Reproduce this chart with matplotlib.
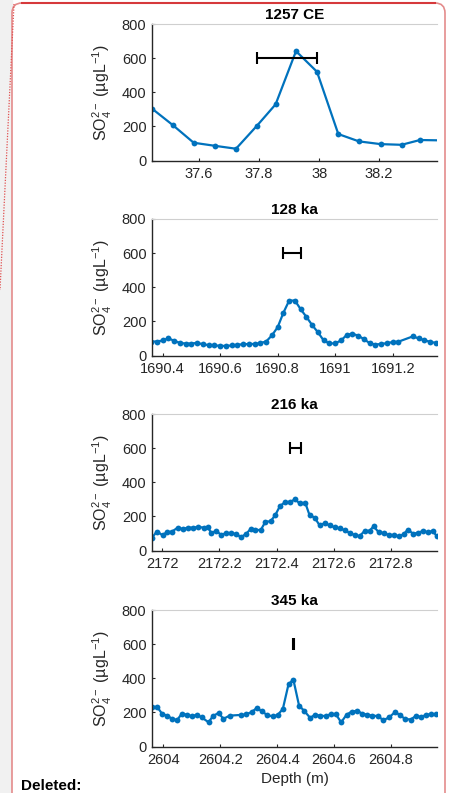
import matplotlib
matplotlib.use('Agg')
import matplotlib.pyplot as plt
from matplotlib.patches import FancyBboxPatch
from matplotlib.lines import Line2D
from matplotlib.ticker import FormatStrFormatter

plt.rcParams['font.family'] = ['Liberation Sans', 'DejaVu Sans']
plt.rcParams['mathtext.fontset'] = 'custom'
plt.rcParams['mathtext.rm'] = 'Liberation Sans'
plt.rcParams['mathtext.it'] = 'Liberation Sans:italic'
plt.rcParams['mathtext.bf'] = 'Liberation Sans:bold'

# ---- data ----
titles = ['1257 CE', '128 ka', '216 ka', '345 ka']

depth_1257 = [37.443, 37.512, 37.582, 37.653, 37.723, 37.793, 37.855, 37.923,
              37.993, 38.064, 38.133, 38.205, 38.275, 38.336, 38.405]
so4_1257 = [304, 208, 104, 86, 69, 204, 329, 641, 520, 155, 112, 96, 92, 120, 118]

depth_128 = [1690.36, 1690.38, 1690.40, 1690.42, 1690.44, 1690.46, 1690.48, 1690.50,
             1690.52, 1690.54, 1690.56, 1690.58, 1690.60, 1690.62, 1690.64, 1690.66,
             1690.68, 1690.70, 1690.72, 1690.74, 1690.76, 1690.78, 1690.80, 1690.82,
             1690.84, 1690.86, 1690.88, 1690.90, 1690.92, 1690.94, 1690.96, 1690.98,
             1691.00, 1691.02, 1691.04, 1691.06, 1691.08, 1691.10, 1691.12, 1691.14,
             1691.16, 1691.18, 1691.20, 1691.22, 1691.27, 1691.29, 1691.31, 1691.33,
             1691.35]
so4_128 = [82, 82, 88, 101, 86, 74, 70, 70, 74, 66, 61, 59, 57, 56, 59, 63,
           66, 67, 68, 73, 82, 118, 166, 251, 322, 322, 271, 226, 178, 136, 88, 71,
           71, 88, 120, 128, 116, 96, 72, 64, 68, 72, 79, 81, 112, 100, 90, 80, 74]

depth_216 = [2171.964, 2171.981, 2172.001, 2172.016, 2172.034, 2172.054, 2172.072,
             2172.090, 2172.107, 2172.126, 2172.146, 2172.159, 2172.171, 2172.189,
             2172.206, 2172.224, 2172.241, 2172.259, 2172.275, 2172.293, 2172.309,
             2172.326, 2172.344, 2172.361, 2172.379, 2172.396, 2172.412, 2172.429,
             2172.448, 2172.465, 2172.480, 2172.500, 2172.515, 2172.533, 2172.550,
             2172.568, 2172.585, 2172.603, 2172.620, 2172.638, 2172.655, 2172.673,
             2172.690, 2172.708, 2172.725, 2172.739, 2172.757, 2172.774, 2172.792,
             2172.809, 2172.827, 2172.844, 2172.859, 2172.877, 2172.894, 2172.912,
             2172.929, 2172.946, 2172.960]
so4_216 = [75, 111, 90, 107, 111, 134, 126, 134, 134, 138, 134, 138, 103, 115,
           91, 103, 101, 97, 78, 97, 126, 122, 119, 169, 171, 210, 262, 282,
           286, 300, 276, 280, 208, 193, 148, 160, 148, 136, 130, 119, 103, 91,
           84, 115, 115, 142, 107, 103, 91, 91, 84, 95, 122, 99, 103, 115,
           107, 115, 84]

depth_345 = [2603.960, 2603.978, 2603.995, 2604.013, 2604.030, 2604.048, 2604.065,
             2604.083, 2604.100, 2604.118, 2604.135, 2604.159, 2604.174, 2604.194,
             2604.211, 2604.233, 2604.272, 2604.291, 2604.311, 2604.328, 2604.346,
             2604.364, 2604.385, 2604.402, 2604.420, 2604.440, 2604.457, 2604.477,
             2604.495, 2604.516, 2604.533, 2604.551, 2604.571, 2604.588, 2604.606,
             2604.625, 2604.644, 2604.662, 2604.682, 2604.699, 2604.717, 2604.735,
             2604.755, 2604.773, 2604.793, 2604.814, 2604.831, 2604.849, 2604.869,
             2604.887, 2604.907, 2604.925, 2604.942, 2604.960]
so4_345 = [232, 232, 193, 180, 164, 154, 193, 186, 178, 186, 170, 142, 178, 197,
           162, 181, 185, 188, 203, 225, 207, 185, 176, 185, 220, 365, 392, 240,
           209, 168, 186, 181, 178, 190, 190, 142, 186, 205, 209, 193, 186, 181,
           178, 154, 170, 201, 186, 162, 158, 178, 174, 186, 190, 188]

# horizontal error bars (centre, half width) at 600
err_center = [37.893, 1690.85, 2172.467, 2604.457]
err_half = [0.1, 0.031, 0.019, 0.001]
err_y = 600

xlims = [(37.443, 38.393), (1690.363, 1691.354), (2171.964, 2172.961), (2603.96, 2604.962)]
xticks = [[37.6, 37.8, 38.0, 38.2],
          [1690.4, 1690.6, 1690.8, 1691.0, 1691.2],
          [2172.0, 2172.2, 2172.4, 2172.6, 2172.8],
          [2604.0, 2604.2, 2604.4, 2604.6, 2604.8]]
yticks = [0, 200, 400, 600, 800]

depths = [depth_1257, depth_128, depth_216, depth_345]
values = [so4_1257, so4_128, so4_216, so4_345]

W, H = 449, 793
fig = plt.figure(figsize=(W / 100, H / 100), dpi=100)

# page decoration (track-changes balloon)
fig.patches.append(plt.Rectangle((0, 0), 12 / W, 1, transform=fig.transFigure,
                                 color='#f1f1f1', zorder=0))
box = FancyBboxPatch((0.12, -0.3), 4.33, 8.2, boxstyle='round,pad=0,rounding_size=0.1',
                     transform=fig.dpi_scale_trans, facecolor='white',
                     edgecolor='#e48c8c', lw=1.2, zorder=1)
fig.patches.append(box)
fig.lines.append(Line2D([22 / W, 435 / W], [1 - 3 / H, 1 - 3 / H], transform=fig.transFigure,
                        color='#d6393b', lw=1.5, zorder=2))
fig.lines.append(Line2D([14 / W, 0], [1 - 4 / H, 1 - 290 / H], transform=fig.transFigure,
                        color='#e05050', lw=0.9, ls=(0, (1, 1.2)), zorder=2))
fig.text(21 / W, 1 - 790 / H, 'Deleted:', fontsize=11, fontweight='bold',
         ha='left', va='baseline', color='black')

tops = [24, 219, 414, 610]
ax_h = 136.5
gray = '#262626'

for i in range(4):
    ax = fig.add_axes([152 / W, 1 - (tops[i] + ax_h) / H, 285 / W, ax_h / H], zorder=3)
    ax.plot(depths[i], values[i], '-o', color='#0072BD', lw=1.6, ms=4.2, mew=0)
    ax.errorbar(err_center[i], err_y, xerr=err_half[i], color='black', lw=1.5,
                capsize=4, capthick=1.5)
    ax.set_xlim(*xlims[i])
    ax.set_ylim(0, 800)
    ax.set_xticks(xticks[i])
    ax.set_yticks(yticks)
    ax.xaxis.set_major_formatter(FormatStrFormatter('%g'))
    ax.tick_params(direction='in', length=2.5, width=0.8, labelsize=10.5,
                   colors=gray, top=False, right=False)
    ax.tick_params(axis='x', pad=5)
    ax.tick_params(axis='y', pad=4)
    for s in ['left', 'bottom']:
        ax.spines[s].set_color(gray)
        ax.spines[s].set_linewidth(1.0)
    ax.spines['right'].set_visible(False)
    ax.spines['top'].set_color('#cfcfcf')
    ax.spines['top'].set_linewidth(0.8)
    ax.set_title(titles[i], fontsize=11, fontweight='bold', pad=3.5)
    ax.set_ylabel('SO$_4^{2-}$ (µgL$^{-1}$)', fontsize=11.5, color=gray)
    ax.yaxis.set_label_coords(-0.135, 0.5)

ax.set_xlabel('Depth (m)', fontsize=11, color=gray, labelpad=3)

fig.savefig('out.png', dpi=100)
